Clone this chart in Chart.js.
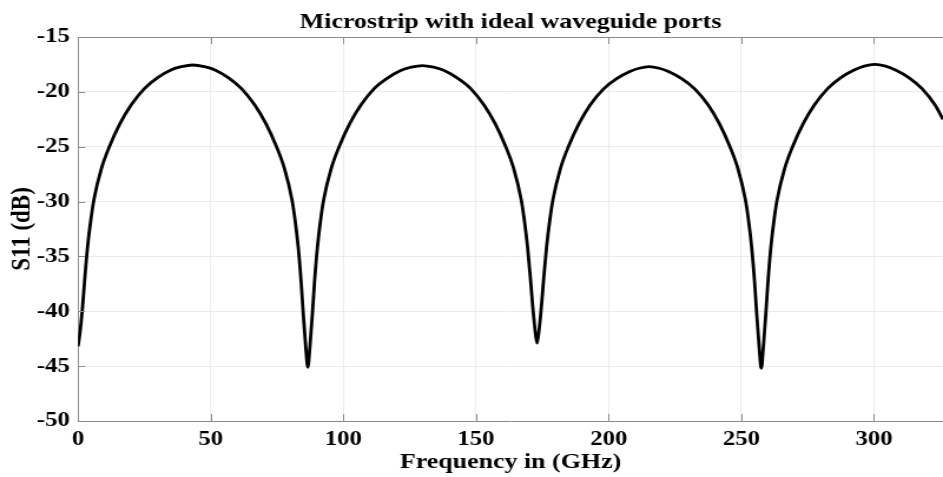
<!DOCTYPE html>
<html>
<head>
<meta charset="utf-8">
<script src="https://cdn.jsdelivr.net/npm/chart.js@4.4.1/dist/chart.umd.min.js"></script>
<style>
html,body{margin:0;padding:0;background:#fff;overflow:hidden}
#c{display:block}
</style>
</head>
<body>
<canvas id="c" width="800" height="477" style="width:943px;height:477px"></canvas>
<script>
// ---- data ----
const freqGHz = [
  0, 0.8, 1.7, 2.5, 3.6, 4.8, 6.0, 8.8, 11.8, 15.8, 20, 25, 30, 35, 39, 43.3,
  47.6, 51.6, 56.6, 61.6, 66.6, 70.8, 74.8, 77.8, 80.6, 81.8, 83.0, 84.1, 84.9, 85.8, 86.6,
  87.4, 88.3, 89.1, 90.2, 91.4, 92.6, 95.4, 98.4, 102.4, 106.6, 111.6, 116.6, 121.6, 125.6, 129.8,
  134.0, 138.0, 143.0, 148.0, 153.0, 157.2, 161.2, 164.2, 167.0, 168.2, 169.4, 170.5, 171.3, 172.2, 173.0,
  173.8, 174.7, 175.5, 176.6, 177.8, 179.0, 181.8, 184.8, 188.8, 193.0, 198.0, 203.0, 208.0, 211.5, 215.25,
  219.0, 222.5, 227.5, 232.5, 237.5, 241.7, 245.7, 248.7, 251.5, 252.7, 253.9, 255.0, 255.8, 256.7, 257.5,
  258.3, 259.2, 260.0, 261.1, 262.3, 263.5, 266.3, 269.3, 273.3, 277.5, 282.5, 287.5, 292.5, 296.3, 300.3,
  304.3, 308.1, 313.1, 318.1, 323.0, 326.0
];
const s11dB = [
  -43.2, -41.8, -39.6, -37.1, -34.1, -31.7, -29.8, -27.0, -25.0, -22.9, -21.2, -19.7, -18.7, -18.0, -17.7, -17.55,
  -17.7, -18.0, -18.7, -19.7, -21.2, -22.9, -25.0, -27.0, -29.8, -31.7, -34.2, -37.4, -40.3, -43.2, -45.1,
  -43.2, -40.3, -37.4, -34.2, -31.7, -29.8, -27.0, -25.0, -22.9, -21.2, -19.7, -18.75, -18.05, -17.75, -17.6,
  -17.75, -18.05, -18.75, -19.7, -21.2, -22.9, -25.0, -27.0, -29.8, -31.7, -34.1, -37.0, -39.4, -41.6, -42.9,
  -41.6, -39.4, -37.0, -34.1, -31.7, -29.8, -27.0, -25.0, -22.9, -21.2, -19.75, -18.8, -18.15, -17.85, -17.7,
  -17.85, -18.15, -18.8, -19.75, -21.2, -22.9, -25.0, -27.0, -29.8, -31.7, -34.2, -37.4, -40.3, -43.2, -45.2,
  -43.2, -40.3, -37.4, -34.2, -31.7, -29.8, -27.0, -25.0, -22.9, -21.2, -19.7, -18.7, -18.0, -17.65, -17.5,
  -17.65, -18.0, -18.7, -19.7, -21.2, -22.5
];
const xTickValues = [0, 50, 100, 150, 200, 250, 300];
const yTickValues = [-50, -45, -40, -35, -30, -25, -20, -15];
const chartTitle = 'Microstrip with ideal waveguide ports';
const xAxisTitle = 'Frequency in (GHz)';
const yAxisTitle = 'S11 (dB)';
const xRange = [0, 326];
const yRange = [-50, -15];

const FONT = "'Liberation Serif', 'Times New Roman', Times, serif";
const AXIS_GRAY = '#8a8a8a';
const GRID_GRAY = '#ebebeb';

const points = freqGHz.map((f, i) => ({ x: f, y: s11dB[i] }));

// inward tick marks + top frame line (MATLAB-style box)
const frameTicks = {
  id: 'frameTicks',
  afterDatasetsDraw(chart) {
    const { ctx, chartArea: a, scales } = chart;
    ctx.save();
    ctx.strokeStyle = AXIS_GRAY;
    ctx.lineWidth = 1;
    ctx.beginPath();
    ctx.moveTo(a.left, a.top + 0.5);
    ctx.lineTo(a.right, a.top + 0.5);
    const len = 7;
    xTickValues.forEach(v => {
      const px = Math.round(scales.x.getPixelForValue(v)) + 0.5;
      ctx.moveTo(px, a.bottom); ctx.lineTo(px, a.bottom - len);
      ctx.moveTo(px, a.top); ctx.lineTo(px, a.top + len);
    });
    yTickValues.forEach(v => {
      const py = Math.round(scales.y.getPixelForValue(v)) + 0.5;
      ctx.moveTo(a.left, py); ctx.lineTo(a.left + 6, py);
    });
    ctx.stroke();
    ctx.restore();
  }
};

new Chart(document.getElementById('c'), {
  type: 'line',
  data: {
    datasets: [{
      data: points,
      borderColor: '#000',
      borderWidth: 2.8,
      pointRadius: 0,
      fill: false,
      cubicInterpolationMode: 'monotone'
    }]
  },
  options: {
    responsive: false,
    animation: false,
    devicePixelRatio: 1,
    layout: { padding: { left: 0, right: 0, top: 0, bottom: 0 } },
    plugins: {
      legend: { display: false },
      tooltip: { enabled: false },
      title: {
        display: true,
        fullSize: false,
        text: chartTitle,
        color: '#000',
        font: { family: FONT, size: 22, weight: 'bold', lineHeight: 1.2 },
        padding: { top: 9, bottom: 1.6 }
      }
    },
    scales: {
      x: {
        type: 'linear',
        min: xRange[0],
        max: xRange[1],
        afterFit: s => { s.height = 56; },
        ticks: {
          stepSize: 50,
          includeBounds: false,
          color: '#000',
          padding: 6,
          maxRotation: 0,
          font: { family: FONT, size: 21, weight: 'bold' }
        },
        grid: { color: GRID_GRAY, drawTicks: false, lineWidth: 1 },
        border: { display: true, color: AXIS_GRAY, width: 1 },
        title: {
          display: true,
          text: xAxisTitle,
          color: '#000',
          font: { family: FONT, size: 22, weight: 'bold', lineHeight: 1.2 },
          padding: { top: 0, bottom: 1 }
        }
      },
      y: {
        type: 'linear',
        min: yRange[0],
        max: yRange[1],
        afterFit: s => { s.width = 66.2; },
        ticks: {
          stepSize: 5,
          color: '#000',
          padding: 7,
          font: { family: FONT, size: 21, weight: 'bold' }
        },
        grid: { color: GRID_GRAY, drawTicks: false, lineWidth: 1 },
        border: { display: true, color: AXIS_GRAY, width: 1 },
        title: {
          display: true,
          text: yAxisTitle,
          color: '#000',
          font: { family: FONT, size: 23, weight: 'bold', lineHeight: 1.2 },
          padding: { top: 5, bottom: 0 }
        }
      }
    }
  },
  plugins: [frameTicks]
});
</script>
</body>
</html>
